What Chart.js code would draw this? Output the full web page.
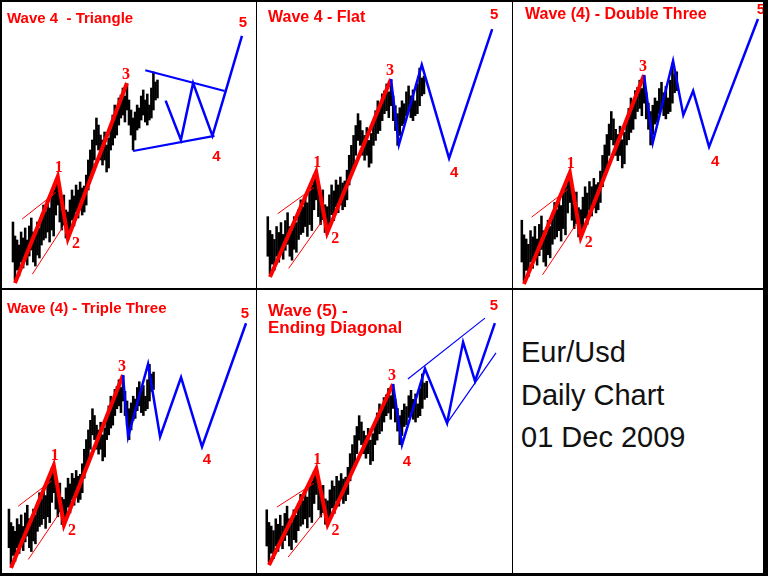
<!DOCTYPE html>
<html>
<head>
<meta charset="utf-8">
<script src="https://cdn.jsdelivr.net/npm/chart.js@4.4.1/dist/chart.umd.min.js"></script>
<style>
  html, body { margin: 0; padding: 0; background: #fff; }
  #page { position: relative; width: 768px; height: 576px; overflow: hidden; background: #fff; }
  .cell { position: absolute; }
  .rule { position: absolute; background: #000; }
  .note { position: absolute; left: 521px; font: 29px "Liberation Sans", Arial, sans-serif; line-height: 29px; color: #111; white-space: nowrap; }
</style>
</head>
<body>
<div id="page">
  <div class="cell" style="left:0;top:0;width:256px;height:288px"><canvas id="c1"></canvas></div>
  <div class="cell" style="left:256px;top:0;width:256px;height:288px"><canvas id="c2"></canvas></div>
  <div class="cell" style="left:512px;top:0;width:256px;height:288px"><canvas id="c3"></canvas></div>
  <div class="cell" style="left:0;top:288px;width:256px;height:285px"><canvas id="c4"></canvas></div>
  <div class="cell" style="left:256px;top:288px;width:256px;height:285px"><canvas id="c5"></canvas></div>

  <div class="note" style="top:338px">Eur/Usd</div>
  <div class="note" style="top:381px">Daily Chart</div>
  <div class="note" style="top:423px">01 Dec 2009</div>

  <div class="rule" style="left:0;top:0;width:768px;height:2px"></div>
  <div class="rule" style="left:0;top:0;width:2px;height:576px"></div>
  <div class="rule" style="left:763px;top:0;width:5px;height:576px"></div>
  <div class="rule" style="left:0;top:573px;width:768px;height:3px"></div>
  <div class="rule" style="left:255.5px;top:0;width:1.5px;height:576px"></div>
  <div class="rule" style="left:511.5px;top:0;width:1.5px;height:576px"></div>
  <div class="rule" style="left:0;top:288px;width:768px;height:1.5px"></div>
</div>

<script>
// daily EUR/USD bars (index = trading day), high / low
const barHigh = [1.3263, 1.3088, 1.3038, 1.2975, 1.3138, 1.3063, 1.3188, 1.3038, 1.3213, 1.3313,
                 1.3138, 1.3088, 1.3263, 1.3188, 1.3350, 1.3475, 1.3388, 1.3538, 1.3438, 1.3588,
                 1.3663, 1.3788, 1.3838, 1.3663, 1.3538, 1.3600, 1.3413, 1.3388, 1.3538, 1.3663,
                 1.3588, 1.3725, 1.3663, 1.3763, 1.3688, 1.3713, 1.3850, 1.4038, 1.4163, 1.4288,
                 1.4413, 1.4563, 1.4475, 1.4350, 1.4288, 1.4388, 1.4225, 1.4313, 1.4475, 1.4600,
                 1.4725, 1.4663, 1.4813, 1.4850, 1.4938, 1.4838, 1.4988, 1.4788, 1.4663, 1.4563,
                 1.4638, 1.4725, 1.4688, 1.4838, 1.4913, 1.4788, 1.4863, 1.4725, 1.4938, 1.5138,
                 1.5013, 1.5038];
const barLow  = [1.2763, 1.2538, 1.2663, 1.2588, 1.2763, 1.2688, 1.2813, 1.2725, 1.2838, 1.2913,
                 1.2763, 1.2713, 1.2850, 1.2813, 1.2975, 1.3038, 1.3063, 1.3138, 1.3013, 1.3163,
                 1.3088, 1.3350, 1.3475, 1.3263, 1.3163, 1.3225, 1.3063, 1.3038, 1.3138, 1.3288,
                 1.3213, 1.3388, 1.3313, 1.3413, 1.3350, 1.3388, 1.3475, 1.3663, 1.3788, 1.3888,
                 1.4038, 1.4225, 1.4163, 1.4038, 1.3975, 1.4038, 1.3888, 1.3938, 1.4163, 1.4225,
                 1.4313, 1.4350, 1.4475, 1.4563, 1.4600, 1.4513, 1.4663, 1.4475, 1.4350, 1.4163,
                 1.4288, 1.4413, 1.4438, 1.4538, 1.4600, 1.4513, 1.4475, 1.4538, 1.4563, 1.4663,
                 1.4788, 1.4813];

// waves 1-2-3 and the little channel around wave 1
const waveRed      = [[1, 1.250], [22, 1.383], [27, 1.306], [56, 1.500]];
const channelUpper = [[4.5, 1.330], [21, 1.363]];
const channelLower = [[9.5, 1.261], [24.5, 1.320]];

// projected waves 4-5 for each scenario
const triangleWave  = [[75, 1.478], [82.5, 1.429], [88.5, 1.500], [98, 1.434], [104.5, 1.490], [112.5, 1.559]];
const triangleUpper = [[65, 1.516], [104, 1.490]];
const triangleLower = [[59, 1.415], [99, 1.434]];
const flatWave      = [[56, 1.500], [59.6, 1.417], [70, 1.518], [82.4, 1.400], [102, 1.563]];
const doubleWave    = [[56, 1.500], [60, 1.419], [69.3, 1.517], [74, 1.452], [78.5, 1.481], [85.8, 1.414], [108.2, 1.567]];
const tripleWave    = [[56, 1.500], [58.5, 1.420], [68.3, 1.514], [74.2, 1.420], [84.5, 1.497], [94.8, 1.407], [116.4, 1.567]];
const diagonalWave  = [[56, 1.500], [60, 1.416], [70.2, 1.521], [80, 1.446], [87.1, 1.558], [92.4, 1.504], [101.2, 1.584]];
const diagonalUpper = [[62.6, 1.507], [96.8, 1.591]];
const diagonalLower = [[80, 1.446], [101.7, 1.543]];

const RED = '#ff0000';
const BLUE = '#0000ff';

function path(points, color, width) {
    return {
        type: 'line',
        data: points.map(([x, y]) => ({ x, y })),
        borderColor: color,
        borderWidth: width,
        pointRadius: 0,
        fill: false,
        tension: 0,
        order: 1
    };
}

const waveText = {
    id: 'waveText',
    afterDatasetsDraw(chart, args, opts) {
        const { ctx, scales: { x, y } } = chart;
        ctx.save();
        ctx.fillStyle = RED;
        ctx.textAlign = 'left';
        ctx.textBaseline = 'alphabetic';
        ctx.font = 'bold ' + opts.size + 'px "Liberation Sans", Arial, sans-serif';
        opts.title.forEach((line, k) => ctx.fillText(line, opts.tx, opts.ty + k * 17));
        ctx.textAlign = 'center';
        ctx.textBaseline = 'middle';
        opts.marks.forEach(m => {
            ctx.font = m.serif ? 'bold 16px "Liberation Serif", serif' : 'bold 15px "Liberation Sans", Arial, sans-serif';
            ctx.fillText(m.text, x.getPixelForValue(m.at[0]) + m.dx, y.getPixelForValue(m.at[1]) + m.dy);
        });
        ctx.restore();
    }
};

function redMarks() {
    return [
        { text: '1', at: waveRed[1], dx: 1, dy: -9, serif: true },
        { text: '2', at: waveRed[2], dx: 8, dy: 6, serif: true },
        { text: '3', at: waveRed[3], dx: -1, dy: -8, serif: true }
    ];
}

function drawPanel(id, cfg) {
    const ctx = document.getElementById(id).getContext('2d');
    const datasets = cfg.lines.concat([
        path(channelUpper, RED, 1),
        path(channelLower, RED, 1),
        path(waveRed, RED, 4),
        {
            type: 'bar',
            data: barHigh.map((h, i) => ({ x: i, y: [barLow[i], h] })),
            backgroundColor: '#000',
            barThickness: 1.9,
            grouped: false,
            order: 2
        }
    ]);
    return new Chart(ctx, {
        type: 'bar',
        data: { datasets },
        options: {
            responsive: true,
            maintainAspectRatio: false,
            animation: false,
            layout: { padding: 0 },
            plugins: {
                legend: { display: false },
                tooltip: { enabled: false },
                waveText: { title: cfg.title, size: cfg.size, tx: cfg.tx, ty: cfg.ty, marks: redMarks().concat(cfg.marks) }
            },
            scales: {
                x: { type: 'linear', min: cfg.x[0], max: cfg.x[1], display: false, offset: false },
                y: { type: 'linear', min: cfg.y[0], max: cfg.y[1], display: false }
            }
        },
        plugins: [waveText]
    });
}

drawPanel('c1', {
    title: ['Wave 4  - Triangle'], size: 15, tx: 7, ty: 23,
    x: [-6.37, 119.4], y: [1.2438, 1.6038],
    lines: [path(triangleWave, BLUE, 2.5), path(triangleUpper, BLUE, 2.2), path(triangleLower, BLUE, 2.2)],
    marks: [
        { text: '4', at: triangleWave[3], dx: 4, dy: 21 },
        { text: '5', at: triangleWave[5], dx: 1, dy: -13 }
    ]
});

drawPanel('c2', {
    title: ['Wave 4 - Flat'], size: 16, tx: 12, ty: 22,
    x: [-5.36, 111.0], y: [1.2362, 1.5998],
    lines: [path(flatWave, BLUE, 2.5)],
    marks: [
        { text: '4', at: flatWave[3], dx: 5, dy: 15 },
        { text: '5', at: flatWave[4], dx: 2, dy: -14 }
    ]
});

drawPanel('c3', {
    title: ['Wave (4) - Double Three'], size: 16, tx: 13, ty: 19,
    x: [-4.5, 112.8], y: [1.2452, 1.5897],
    lines: [path(doubleWave, BLUE, 2.5)],
    marks: [
        { text: '4', at: doubleWave[5], dx: 6, dy: 15 },
        { text: '5', at: doubleWave[6], dx: 3, dy: -9 }
    ]
});

drawPanel('c4', {
    title: ['Wave (4) - Triple Three'], size: 15, tx: 7, ty: 25,
    x: [-4.4, 121.3], y: [1.2435, 1.6127],
    lines: [path(tripleWave, BLUE, 2.5)],
    marks: [
        { text: '4', at: tripleWave[5], dx: 5, dy: 13 },
        { text: '5', at: tripleWave[6], dx: -1, dy: -9 }
    ]
});

drawPanel('c5', {
    title: ['Wave (5) -', 'Ending Diagonal'], size: 17, tx: 12, ty: 28,
    x: [-4.77, 108.8], y: [1.239, 1.6326],
    lines: [path(diagonalWave, BLUE, 2.5), path(diagonalUpper, BLUE, 1.2), path(diagonalLower, BLUE, 1.2)],
    marks: [
        { text: '4', at: diagonalWave[1], dx: 5, dy: 17 },
        { text: '5', at: diagonalWave[6], dx: -1, dy: -17 }
    ]
});
</script>
</body>
</html>
